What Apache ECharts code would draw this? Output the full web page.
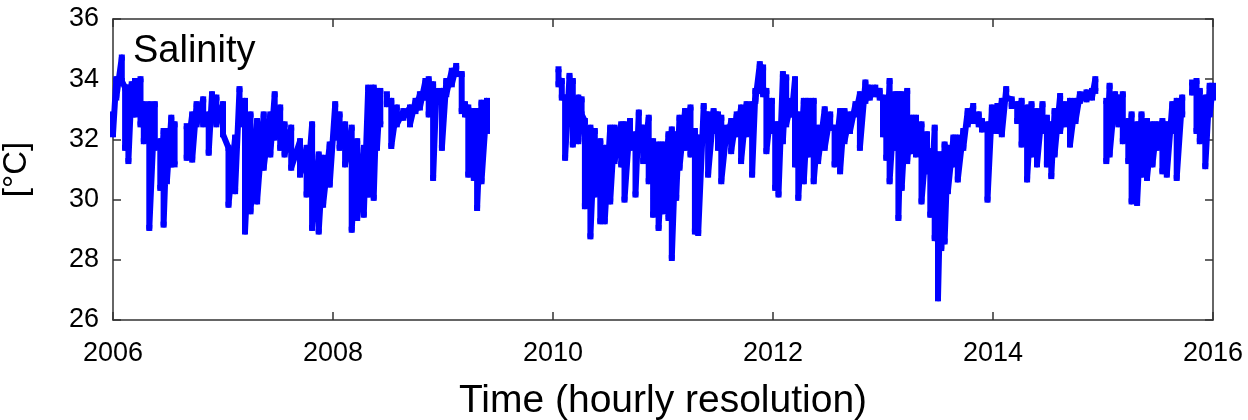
<!DOCTYPE html>
<html>
<head>
<meta charset="utf-8">
<script src="https://cdn.jsdelivr.net/npm/echarts@6/dist/echarts.min.js"></script>
<style>html,body{margin:0;padding:0;background:#fff}#chart{width:1248px;height:420px}</style>
</head>
<body>
<div id="chart"></div>
<script>
// sample time (decimal year) with the upper / lower edge of the dense hourly band; null = data gap
var years = [
  2006.00,2006.03,2006.08,2006.11,2006.14,2006.17,2006.20,2006.25,2006.28,2006.33,2006.38,2006.43,2006.46,2006.49,2006.53,2006.56,null,
  2006.67,2006.72,2006.76,2006.82,2006.87,2006.90,2006.94,2007.00,2007.05,2007.11,2007.15,2007.20,2007.25,2007.31,2007.37,2007.43,
  2007.47,2007.52,2007.56,2007.62,2007.70,2007.76,2007.81,2007.87,2007.91,2007.97,2008.02,2008.06,2008.11,2008.17,2008.22,2008.28,
  2008.32,2008.37,2008.40,2008.43,null,
  2008.49,2008.53,2008.58,2008.64,2008.70,2008.75,2008.79,2008.84,2008.87,2008.91,2008.94,2008.99,2009.03,2009.08,2009.12,2009.17,
  2009.20,2009.23,2009.28,2009.31,2009.35,2009.40,null,
  2010.05,2010.08,2010.11,2010.15,2010.18,2010.23,2010.26,2010.29,2010.34,2010.38,2010.43,2010.47,2010.52,2010.56,2010.62,2010.65,
  2010.70,2010.75,2010.78,2010.82,2010.87,2010.91,2010.96,2011.00,2011.05,2011.08,2011.12,2011.15,2011.20,2011.25,2011.29,2011.32,
  2011.37,2011.41,2011.46,2011.50,2011.53,2011.58,2011.62,2011.67,2011.71,2011.76,2011.81,2011.84,2011.88,2011.91,2011.94,2011.99,
  2012.02,2012.05,2012.09,2012.12,2012.17,2012.20,2012.23,2012.28,2012.32,2012.37,2012.41,2012.47,2012.52,2012.56,2012.61,2012.65,
  2012.70,2012.75,2012.79,2012.84,2012.88,2012.93,2012.97,2013.00,2013.03,2013.06,2013.11,2013.14,
  2013.17,2013.22,2013.26,2013.30,2013.35,2013.40,2013.43,2013.47,2013.50,2013.53,2013.56,2013.59,2013.64,2013.68,2013.73,2013.77,
  2013.82,2013.87,2013.90,2013.95,2013.99,2014.04,2014.08,2014.12,2014.17,2014.22,2014.26,2014.31,2014.35,2014.40,2014.45,2014.49,
  2014.53,2014.56,2014.61,2014.65,2014.70,2014.75,2014.79,2014.85,2014.90,2014.93,null,
  2015.03,2015.06,2015.11,2015.14,2015.18,2015.23,2015.26,2015.31,2015.35,2015.40,2015.45,2015.49,2015.54,2015.58,2015.63,2015.67,
  2015.72,null,
  2015.81,2015.85,2015.88,2015.93,2015.97,2016.00
];
var upper = [
  32.83,34.00,34.72,33.72,33.72,33.83,33.94,34.00,33.17,33.17,33.17,31.94,32.28,32.28,32.72,32.50,null,
  32.44,32.83,33.17,33.33,32.83,33.50,33.39,33.17,31.72,32.06,33.67,33.28,32.83,32.61,32.83,32.83,
  33.50,33.06,32.50,32.39,31.94,31.72,32.50,31.50,31.39,31.83,33.17,32.83,32.50,32.39,31.94,31.72,
  33.72,33.72,33.61,33.61,null,
  33.50,33.28,33.06,32.94,33.06,33.28,33.50,33.94,34.00,33.83,33.61,33.61,33.94,34.28,34.44,34.17,
  33.17,33.06,32.94,32.94,33.22,33.28,null,
  34.33,33.94,33.39,34.11,33.94,33.39,33.33,32.61,32.39,32.28,31.94,31.72,32.39,32.39,32.50,32.50,
  32.61,32.17,32.89,32.39,32.72,31.94,31.83,31.83,32.17,32.33,32.17,32.72,32.94,33.06,32.28,32.06,
  33.11,32.83,32.94,32.83,32.72,32.39,32.61,32.83,33.06,33.17,33.17,33.61,34.50,34.39,33.61,33.28,
  32.50,32.50,34.17,34.06,33.28,34.00,32.83,33.28,33.28,33.28,32.39,33.00,32.83,32.39,32.94,32.94,
  32.83,33.17,33.50,33.89,33.72,33.72,33.61,33.39,32.50,33.94,33.50,33.50,
  33.50,33.61,32.72,32.72,32.50,32.17,31.61,32.39,31.50,31.50,31.83,31.72,32.06,32.06,32.28,32.94,
  33.11,32.83,32.61,32.50,33.06,33.11,33.28,33.67,33.33,33.17,33.28,33.06,33.17,32.94,33.17,32.72,
  32.50,32.94,33.44,33.17,33.28,33.28,33.50,33.56,33.61,34.00,null,
  33.28,33.78,33.50,33.39,33.50,32.61,32.83,32.50,32.83,32.61,32.50,32.50,32.61,32.50,33.17,33.28,
  33.39,null,
  33.89,33.94,33.61,33.39,33.78,33.78
];
var lower = [
  32.17,33.39,33.94,31.72,31.28,32.83,32.83,32.50,31.94,29.06,31.72,30.39,29.17,30.61,31.17,31.17,null,
  31.39,31.33,32.50,32.50,31.56,32.83,32.50,32.17,29.83,30.28,32.50,28.94,29.61,29.94,31.06,31.50,
  32.06,31.72,31.50,31.06,30.83,30.17,29.06,28.94,29.83,30.50,32.06,31.72,31.17,29.00,29.39,29.50,
  30.17,30.06,31.72,32.50,null,
  33.17,31.78,32.50,32.72,32.50,32.94,33.06,33.39,32.83,30.72,33.28,31.72,33.50,33.83,34.17,32.94,
  32.83,30.83,30.72,29.72,30.61,32.28,null,
  33.83,33.39,31.39,33.06,31.83,31.94,32.83,29.78,28.78,30.17,29.28,29.28,29.94,31.28,31.17,30.00,
  31.72,30.17,31.72,31.28,30.61,29.50,29.06,29.61,29.39,28.06,30.06,31.06,31.72,31.50,28.94,28.89,
  32.28,30.83,32.28,31.72,30.61,31.94,31.61,32.17,31.28,32.17,30.83,33.28,33.61,33.50,31.61,32.28,
  30.39,30.17,31.94,32.50,32.83,31.17,30.06,30.61,31.50,30.61,31.28,31.72,32.39,31.17,30.94,31.94,
  32.28,32.83,31.72,33.28,33.39,33.50,33.39,32.17,31.39,30.61,31.72,29.39,
  30.39,31.28,31.61,31.50,29.94,30.94,29.50,28.72,26.72,28.39,28.61,30.28,31.17,30.67,31.72,32.50,
  32.61,32.50,32.33,30.00,32.28,32.28,32.17,33.39,33.11,32.61,31.83,30.67,31.50,31.17,32.28,31.17,
  30.78,31.50,32.28,32.50,31.83,32.61,33.28,33.33,33.39,33.61,null,
  31.28,31.50,32.83,32.50,31.94,31.28,29.94,29.89,30.83,30.72,31.17,31.72,30.94,30.83,32.28,30.72,
  32.83,null,
  33.56,32.28,31.94,31.11,32.83,33.39
];
var yTicks = [26, 28, 30, 32, 34, 36];
var xTicks = [2006, 2008, 2010, 2012, 2014, 2016];

var band = [];
for (var i = 0; i < years.length; i++) {
  if (years[i] === null) { band.push('-'); continue; }
  band.push([years[i], upper[i]]);
  band.push([years[i], lower[i]]);
}

var font = 'Liberation Sans, Arial, sans-serif';
var chart = echarts.init(document.getElementById('chart'));
var tickIn = { show: true, inside: true, length: 8, lineStyle: { color: '#333', width: 1.5 } };
var frame = { show: true, lineStyle: { color: '#333', width: 1.5 } };
chart.setOption({
  animation: false,
  backgroundColor: '#fff',
  grid: { left: 113, right: 35, top: 19, bottom: 100, outerBoundsMode: 'none', containLabel: false },
  graphic: [{
    type: 'text', left: 133, top: 33,
    style: { text: 'Salinity', font: '38px ' + font, fill: '#000' }
  }],
  xAxis: [{
    type: 'value', min: 2006, max: 2016, interval: 2,
    axisLine: frame, axisTick: tickIn, splitLine: { show: false },
    axisLabel: { fontFamily: font, fontSize: 27, color: '#000', margin: 20,
      formatter: function (v) { return xTicks.indexOf(v) >= 0 ? String(v) : ''; } },
    name: 'Time (hourly resolution)', nameLocation: 'middle', nameGap: 62,
    nameTextStyle: { fontFamily: font, fontSize: 39, color: '#000' }
  }, {
    type: 'value', position: 'top', min: 2006, max: 2016, interval: 2,
    axisLine: frame, axisTick: tickIn, axisLabel: { show: false }, splitLine: { show: false }
  }],
  yAxis: [{
    type: 'value', min: 26, max: 36, interval: 2,
    axisLine: frame, axisTick: tickIn, splitLine: { show: false },
    axisLabel: { fontFamily: font, fontSize: 27, color: '#000', margin: 14,
      formatter: function (v) { return yTicks.indexOf(v) >= 0 ? String(v) : ''; } },
    name: '[°C]', nameLocation: 'middle', nameGap: 80, nameRotate: 90,
    nameTextStyle: { fontFamily: font, fontSize: 33, color: '#000' }
  }, {
    type: 'value', position: 'right', min: 26, max: 36, interval: 2,
    axisLine: frame, axisTick: tickIn, axisLabel: { show: false }, splitLine: { show: false }
  }],
  series: [{
    type: 'line', data: band, connectNulls: false,
    symbol: 'rect', symbolSize: 6, showSymbol: true,
    lineStyle: { color: '#0000ff', width: 6, join: 'round' },
    itemStyle: { color: '#0000ff' }
  }]
});
</script>
</body>
</html>
